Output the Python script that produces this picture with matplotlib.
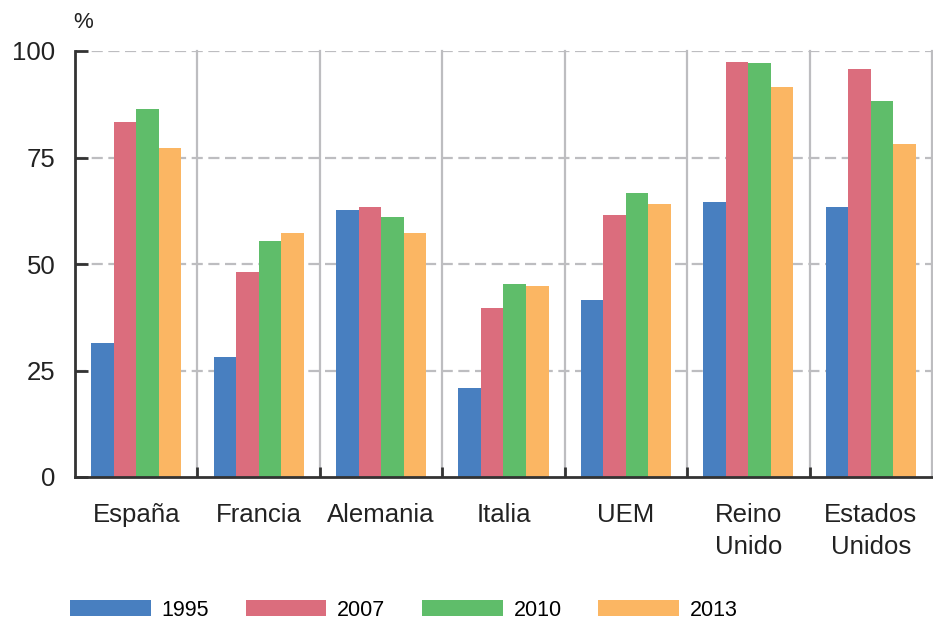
import numpy as np
import matplotlib.pyplot as plt
from matplotlib.patches import Patch

plt.rcParams['font.family'] = ['Liberation Sans', 'DejaVu Sans']

# datos (%)
paises = ['España', 'Francia', 'Alemania', 'Italia', 'UEM', 'Reino\nUnido', 'Estados\nUnidos']
anios = ['1995', '2007', '2010', '2013']
v1995 = [31.5, 28.2, 62.7, 20.8, 41.5, 64.6, 63.3]
v2007 = [83.4, 48.2, 63.3, 39.6, 61.5, 97.5, 95.7]
v2010 = [86.5, 55.5, 61.1, 45.2, 66.7, 97.1, 88.3]
v2013 = [77.3, 57.3, 57.2, 44.8, 64.2, 91.6, 78.1]
series = [v1995, v2007, v2010, v2013]
colores = ['#487FC0', '#DB6D7D', '#5FBD6A', '#FBB663']

fig = plt.figure(figsize=(9.33, 6.19), dpi=100)
ax = fig.add_axes([75 / 933, 142 / 619, 857 / 933, 426 / 619])

x = np.arange(len(paises))
w = 0.184
for i, (vals, c) in enumerate(zip(series, colores)):
    ax.bar(x + (i - 1.5) * w, vals, width=w, color=c, linewidth=0, zorder=3)

ax.set_xlim(-0.5, len(paises) - 0.5)
ax.set_ylim(0, 100)

# rejilla
ax.set_yticks([0, 25, 50, 75, 100])
for y in [25, 50, 75, 100]:
    ax.axhline(y, color='#BDBDC0', lw=1.6, ls=(0, (5, 2.5)), zorder=1)
for b in np.arange(0.5, len(paises), 1.0):
    ax.axvline(b, color='#BDBDC0', lw=1.6, zorder=1, clip_on=False)

ax.set_xticks(x)
ax.set_xticklabels(paises, fontsize=18.5, color='#222222', linespacing=1.42)
ax.set_xticks(np.arange(0.5, len(paises) - 1, 1.0), minor=True)
ax.tick_params(axis='x', which='major', length=0, pad=19)
ax.tick_params(axis='x', which='minor', direction='in', length=7, width=2, color='#333333')
ax.tick_params(axis='y', direction='in', length=9, width=2, color='#333333',
               labelsize=18.5, labelcolor='#222222', pad=14)

for s in ['top', 'right']:
    ax.spines[s].set_visible(False)
for s in ['left', 'bottom']:
    ax.spines[s].set_linewidth(2)
    ax.spines[s].set_color('#333333')
    ax.spines[s].set_zorder(4)

fig.text(73 / 933, 1 - 22 / 619, '%', fontsize=16, color='#222222', va='center')

handles = [Patch(facecolor=c, edgecolor='none') for c in colores]
fig.legend(handles, anios, loc='center left', bbox_to_anchor=(70 / 933, 9 / 619),
           ncol=4, frameon=False, fontsize=15.5, handlelength=3.75, handleheight=0.75,
           handletextpad=0.5, columnspacing=1.7, borderpad=0, borderaxespad=0)

fig.savefig('out.png', dpi=100)
